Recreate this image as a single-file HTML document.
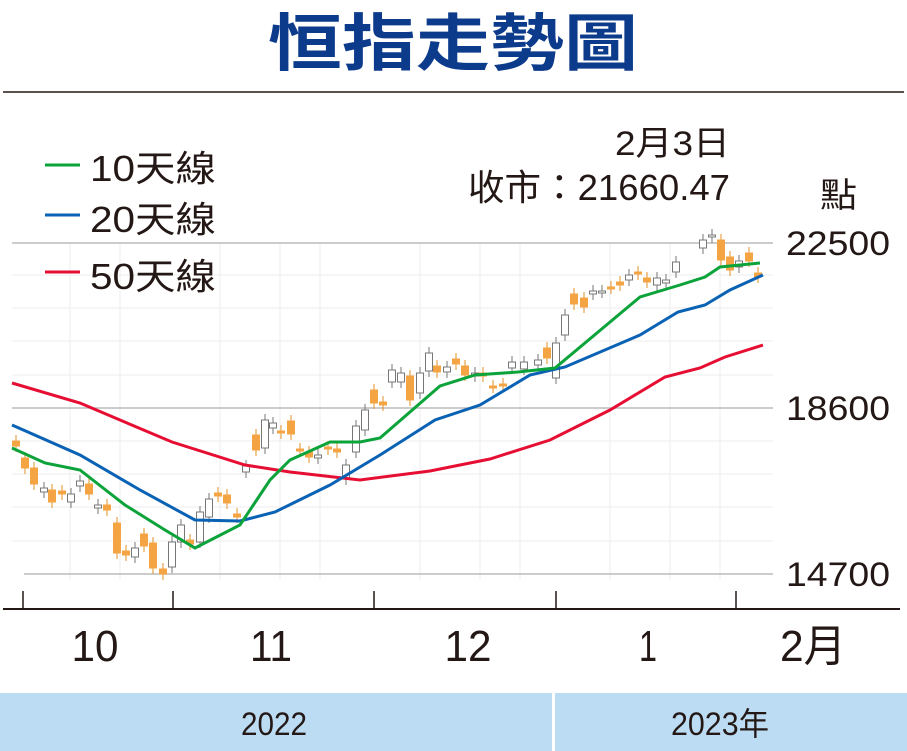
<!DOCTYPE html>
<html><head><meta charset="utf-8"><style>
html,body{margin:0;padding:0;background:#fff;}
svg{display:block;}
text{font-family:"Liberation Sans","Noto Sans CJK TC",sans-serif;fill:#231815;}
</style></head><body>
<svg width="907" height="751" viewBox="0 0 907 751" xmlns="http://www.w3.org/2000/svg">
<text x="453" y="65" text-anchor="middle" font-size="62" font-weight="bold" style="fill:#0d3b8c;font-family:'Noto Sans CJK TC','Liberation Sans',sans-serif" textLength="370" lengthAdjust="spacingAndGlyphs">恒指走勢圖</text>
<line x1="3" y1="92" x2="904" y2="92" stroke="#231815" stroke-width="1.5"/>
<!-- faint grid -->
<g stroke="#eee" stroke-width="1">
<line x1="12" y1="275" x2="773" y2="275"/><line x1="12" y1="308" x2="773" y2="308"/><line x1="12" y1="341" x2="773" y2="341"/><line x1="12" y1="375" x2="773" y2="375"/>
<line x1="12" y1="441" x2="773" y2="441"/><line x1="12" y1="474" x2="773" y2="474"/><line x1="12" y1="507" x2="773" y2="507"/><line x1="12" y1="541" x2="773" y2="541"/>
<line x1="70" y1="242" x2="70" y2="580"/><line x1="120" y1="242" x2="120" y2="580"/><line x1="220" y1="242" x2="220" y2="580"/><line x1="280" y1="242" x2="280" y2="580"/><line x1="320" y1="242" x2="320" y2="580"/><line x1="420" y1="242" x2="420" y2="580"/><line x1="480" y1="242" x2="480" y2="580"/><line x1="520" y1="242" x2="520" y2="580"/><line x1="610" y1="242" x2="610" y2="580"/><line x1="670" y1="242" x2="670" y2="580"/><line x1="720" y1="242" x2="720" y2="580"/>
</g>
<g stroke="#bbb" stroke-width="1.5">
<line x1="12" y1="243" x2="773" y2="243"/><line x1="12" y1="408" x2="773" y2="408"/><line x1="24" y1="574" x2="773" y2="574"/>
</g>
<g id="c"></g>
<polyline fill="none" stroke="#e60f33" stroke-width="3" points="12,383 80,403 120,420 172,442 245,465 290,472 360,480 430,471 490,459 550,440 610,410 665,377 700,368 725,357 763,345"/>
<polyline fill="none" stroke="#0a62b4" stroke-width="3" points="12,425 80,455 140,490 195,520 240,521 275,512 330,485 380,455 435,420 480,405 530,375 565,367 640,335 678,312 705,305 730,290 763,275"/>
<polyline fill="none" stroke="#0ba33a" stroke-width="3" points="12,448 45,463 80,470 125,505 165,530 195,548 240,525 270,480 290,460 330,442 360,442 380,438 440,386 475,375 518,372 555,368 640,297 680,285 705,277 720,267 760,263"/>
<!-- legend -->
<line x1="45" y1="165" x2="80" y2="165" stroke="#0ba33a" stroke-width="3"/>
<line x1="45" y1="215" x2="80" y2="215" stroke="#0a62b4" stroke-width="3"/>
<line x1="45" y1="272" x2="80" y2="272" stroke="#e60f33" stroke-width="3"/>
<text x="90" y="181" font-size="36" textLength="126" lengthAdjust="spacingAndGlyphs">10天線</text>
<text x="90" y="232" font-size="36" textLength="126" lengthAdjust="spacingAndGlyphs">20天線</text>
<text x="90" y="289" font-size="36" textLength="126" lengthAdjust="spacingAndGlyphs">50天線</text>
<text x="615" y="155" font-size="34" textLength="115" lengthAdjust="spacingAndGlyphs">2月3日</text>
<text x="468" y="200" font-size="36" textLength="262" lengthAdjust="spacingAndGlyphs">收市：21660.47</text>
<text x="820" y="207" font-size="34" textLength="37" lengthAdjust="spacingAndGlyphs">點</text>
<text x="786" y="255" font-size="34" textLength="104" lengthAdjust="spacingAndGlyphs">22500</text>
<text x="786" y="420" font-size="34" textLength="104" lengthAdjust="spacingAndGlyphs">18600</text>
<text x="786" y="586" font-size="34" textLength="104" lengthAdjust="spacingAndGlyphs">14700</text>
<!-- axis -->
<line x1="3" y1="609" x2="900" y2="609" stroke="#231815" stroke-width="2"/>
<g stroke="#231815" stroke-width="1.5">
<line x1="23" y1="591" x2="23" y2="609"/><line x1="173" y1="591" x2="173" y2="609"/><line x1="374" y1="591" x2="374" y2="609"/><line x1="556" y1="591" x2="556" y2="609"/><line x1="736" y1="591" x2="736" y2="609"/>
</g>
<text x="95" y="661" font-size="44" text-anchor="middle" textLength="47" lengthAdjust="spacingAndGlyphs">10</text>
<text x="271" y="661" font-size="44" text-anchor="middle" textLength="42" lengthAdjust="spacingAndGlyphs">11</text>
<text x="468" y="661" font-size="44" text-anchor="middle" textLength="47" lengthAdjust="spacingAndGlyphs">12</text>
<text x="648" y="661" font-size="44" text-anchor="middle" textLength="18" lengthAdjust="spacingAndGlyphs">1</text>
<text x="813" y="661" font-size="44" text-anchor="middle" textLength="66" lengthAdjust="spacingAndGlyphs">2月</text>
<rect x="0" y="693" width="907" height="58" fill="#bcdcf3"/>
<rect x="552" y="693" width="3" height="58" fill="#fff"/>
<text x="274" y="735" font-size="32" text-anchor="middle" textLength="66" lengthAdjust="spacingAndGlyphs">2022</text>
<text x="720" y="735" font-size="32" text-anchor="middle" textLength="98" lengthAdjust="spacingAndGlyphs">2023年</text>
</svg>
<script>
var d=[[16,441,446,'o'],[25,458,468,'o'],[34,468,484,'o'],[44,488,492,'w'],[52,490,502,'o'],[62,491,494,'o'],[71,494,502,'w'],[80,481,486,'w'],[89,484,494,'o'],[98,505,508,'w'],[107,505,510,'o'],[117,523,553,'o'],[126,551,555,'o'],[135,548,557,'w'],[144,534,546,'o'],[153,543,568,'o'],[163,569,574,'o'],[172,542,567,'w'],[181,525,542,'w'],[190,540,544,'o'],[200,512,542,'w'],[209,499,517,'w'],[218,493,496,'o'],[227,495,503,'o'],[237,514,517,'o'],[246,466,472,'w'],[256,435,450,'o'],[265,420,448,'w'],[273,423,428,'w'],[281,431,433,'o'],[291,421,434,'o'],[300,449,451,'o'],[309,452,457,'o'],[318,455,458,'w'],[328,447,449,'o'],[337,449,452,'o'],[346,465,479,'w'],[356,426,452,'w'],[365,410,430,'w'],[374,390,403,'o'],[383,402,405,'o'],[392,370,382,'w'],[401,373,382,'w'],[410,376,400,'o'],[420,373,393,'w'],[429,353,371,'w'],[437,366,372,'o'],[447,367,372,'w'],[456,359,364,'o'],[465,366,375,'o'],[475,373,376,'w'],[483,373,376,'o'],[493,386,387,'o'],[503,384,385,'o'],[512,362,368,'w'],[524,362,369,'w'],[538,360,365,'w'],[547,348,358,'o'],[556,343,378,'w'],[565,315,335,'w'],[574,294,304,'o'],[584,298,307,'o'],[593,291,294,'w'],[602,291,292,'w'],[611,287,288,'o'],[620,282,285,'o'],[629,275,280,'w'],[638,272,274,'o'],[647,278,282,'o'],[657,278,285,'w'],[666,280,283,'w'],[676,262,272,'w'],[703,240,248,'w'],[712,235,237,'w'],[721,240,260,'o'],[730,257,270,'o'],[739,261,267,'w'],[749,253,261,'o'],[758,273,277,'o']];
var g=document.getElementById('c'),s='';
d.forEach(function(c){var x=c[0],t=c[1],b=c[2],o=c[3]=='o';
s+='<line x1="'+x+'" y1="'+(t-6)+'" x2="'+x+'" y2="'+(b+6)+'" stroke="'+(o?'#e0902a':'#777')+'" stroke-width="1"/>';
s+='<rect x="'+(x-3.5)+'" y="'+t+'" width="7" height="'+Math.max(2,b-t)+'" fill="'+(o?'#f5a444':'#fff')+'" stroke="'+(o?'#f5a444':'#777')+'" stroke-width="1"/>';});
g.innerHTML=s;
</script>
</body></html>
